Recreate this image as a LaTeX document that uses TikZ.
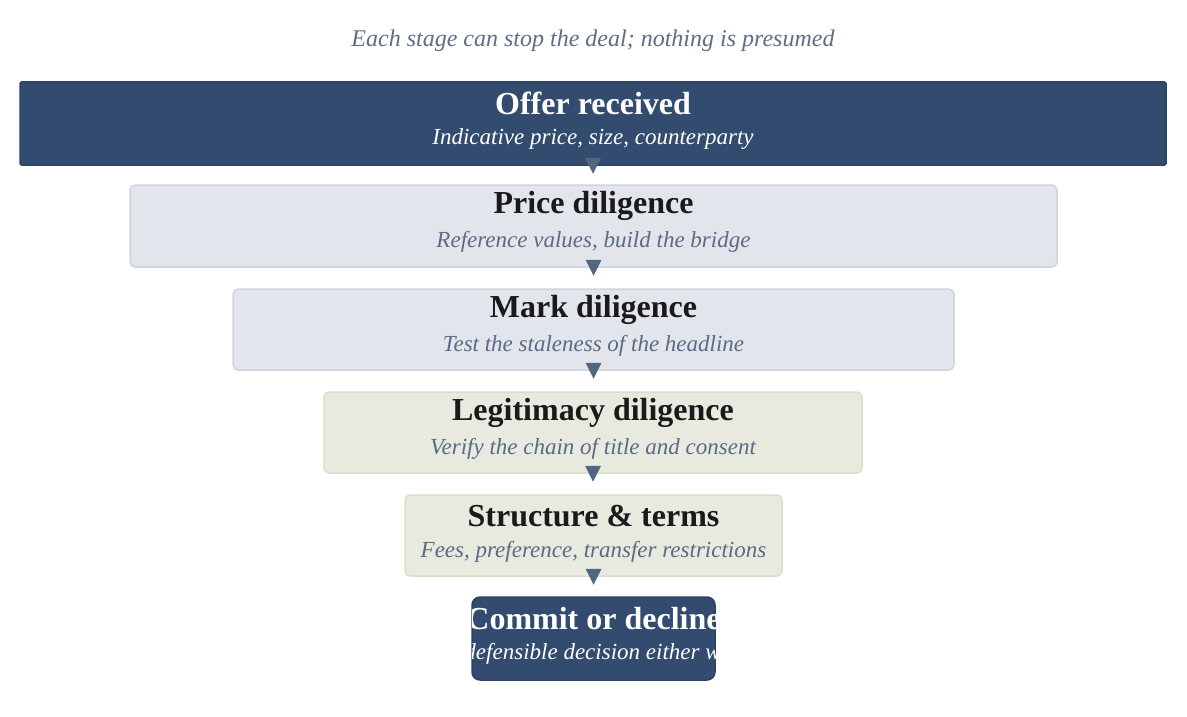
\documentclass[tikz,border=0pt]{standalone}
\usepackage{fontspec}
\setmainfont{Liberation Serif}
\usetikzlibrary{calc}
\definecolor{navy}{HTML}{324B6E}
\definecolor{navyedge}{HTML}{2C4366}
\definecolor{greyfill}{HTML}{E2E5EB}
\definecolor{greyedge}{HTML}{CFD5DD}
\definecolor{olivefill}{HTML}{E8EADF}
\definecolor{oliveedge}{HTML}{DCDFC8}
\definecolor{arrowc}{HTML}{53667F}
\definecolor{subc}{HTML}{5A6B85}
\definecolor{titlec}{HTML}{1A1A1A}
\definecolor{capc}{HTML}{5E6E84}
\tikzset{
  stagebox/.style={rectangle, rounded corners=5pt, line width=1.5pt, inner sep=0pt},
  greybox/.style={stagebox, fill=greyfill, draw=greyedge},
  olivebox/.style={stagebox, fill=olivefill, draw=oliveedge},
  navybox/.style={stagebox, fill=navy, draw=navyedge},
  ttl/.style={inner sep=0pt, font=\fontsize{32}{34}\selectfont\bfseries, text=titlec},
  sub/.style={inner sep=0pt, font=\fontsize{23}{26}\selectfont\itshape, text=subc},
  ttlw/.style={ttl, text=white},
  subw/.style={sub, text=white},
  tri/.style={fill=arrowc}
}
\newcommand{\stagetri}[1]{\fill[tri] ($(#1.south)+(-8,-8)$) -- ($(#1.south)+(8,-8)$) -- ($(#1.south)+(0,8)$) -- cycle;}
\begin{document}
\begin{tikzpicture}[x=1pt,y=-1pt]
\useasboundingbox (0,0) rectangle (1187,717);
\node[inner sep=0pt, font=\fontsize{24}{26}\selectfont\itshape, text=capc] (cap) at (593,41) {Each stage can stop the deal; nothing is presumed};

\node[navybox, rounded corners=1.5pt, minimum width=1146pt, minimum height=83pt] (b1) at (593,123.5) {};
\node[greybox, minimum width=927pt, minimum height=82pt] (b2) at (593.5,226) {};
\node[greybox, minimum width=721pt, minimum height=81pt] (b3) at (593.5,329.5) {};
\node[olivebox, minimum width=538pt, minimum height=81pt] (b4) at (593,432.5) {};
\node[olivebox, minimum width=377pt, minimum height=81pt] (b5) at (593.5,535.5) {};
\node[navybox, rounded corners=8pt, minimum width=243pt, minimum height=83pt] (b6) at (593.5,638.5) {};

\node[ttlw] (t1) at ($(b1.north)+(0,22)$) {Offer received};
\node[subw] (s1) at ($(b1.north)+(0,58)$) {Indicative price, size, counterparty};
\node[ttl] (t2) at ($(b2.north)+(0,22)$) {Price diligence};
\node[sub] (s2) at ($(b2.north)+(0,58)$) {Reference values, build the bridge};
\node[ttl] (t3) at ($(b3.north)+(0,22)$) {Mark diligence};
\node[sub] (s3) at ($(b3.north)+(0,58)$) {Test the staleness of the headline};
\node[ttl] (t4) at ($(b4.north)+(0,22)$) {Legitimacy diligence};
\node[sub] (s4) at ($(b4.north)+(0,58)$) {Verify the chain of title and consent};
\node[ttl] (t5) at ($(b5.north)+(0,22)$) {Structure \& terms};
\node[sub] (s5) at ($(b5.north)+(0,58)$) {Fees, preference, transfer restrictions};
\begin{scope}
  \clip[rounded corners=8pt] (b6.north west) rectangle (b6.south east);
  \node[ttlw] (t6) at ($(b6.north)+(0,22)$) {Commit or decline};
  \node[subw] (s6) at ($(b6.north)+(0,58)$) {A defensible decision either way};
\end{scope}

\stagetri{b1}
\stagetri{b2}
\stagetri{b3}
\stagetri{b4}
\stagetri{b5}
\end{tikzpicture}
\end{document}
